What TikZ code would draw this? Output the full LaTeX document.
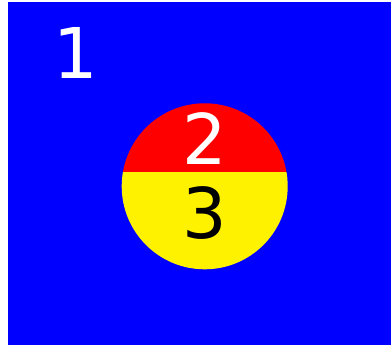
\documentclass[tikz,border=0pt]{standalone}
\usepackage{fontspec}
\setmainfont{DejaVu Sans}
\begin{document}
\begin{tikzpicture}[x=1pt,y=-1pt,
  digit/.style={inner sep=0pt,font=\fontsize{70}{70}\selectfont}]
\useasboundingbox (0,0) rectangle (391,345);
\fill[blue] (8,2) rectangle (391,345);
\coordinate (c) at (204.7,186.3);
\begin{scope}
  \clip (c) circle (83);
  \fill[red] (100,90) rectangle (300,171.7);
  \fill[yellow] (100,171.7) rectangle (300,280);
\end{scope}
\node[digit,text=white] (n1) at (75.5,52.5) {1};
\node[digit,text=white] (n2) at (205,138.5) {2};
\node[digit,text=black] (n3) at (205,213.5) {3};
\end{tikzpicture}
\end{document}
